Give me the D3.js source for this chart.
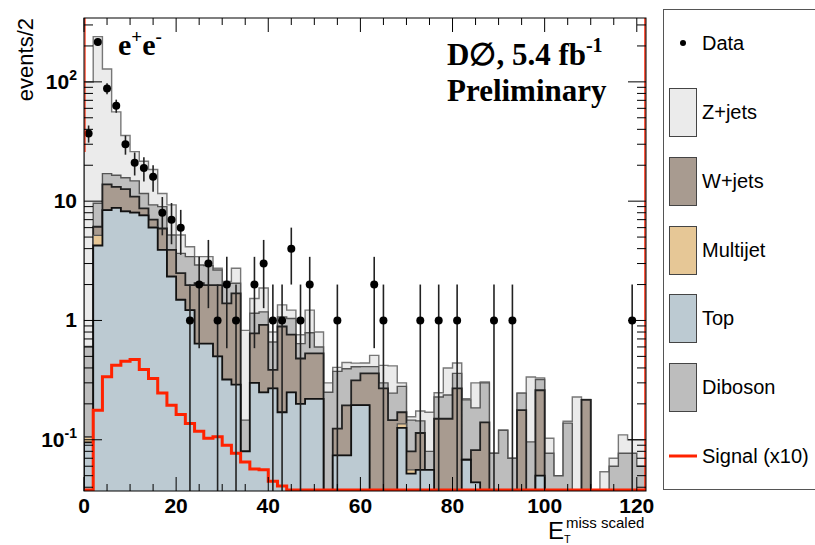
<!DOCTYPE html>
<html><head><meta charset="utf-8">
<script src="https://cdn.jsdelivr.net/npm/d3@7"></script>
<style>body{margin:0;background:#fff}svg{display:block}</style>
</head><body>
<svg id="chart" width="815" height="545"></svg>
<script>
// Missing scaled transverse energy, e+e- channel, 2-unit bins from 0 to 122
const binWidth = 2;
const nBins = 61;

// Background expectations per bin (stacked bottom-up: Top, Multijet, W+jets, Diboson, Z+jets)
const topBkg = [0.095,4.25,8.4,8.8,8.2,8.0,7.6,6.0,3.9,2.33,1.49,1.22,0.64,0.64,0.5,0.32,0.29,0.08,0.3,0.25,0.27,0.17,0.25,0.2,0.22,0.22,0,0.074,0.074,0.195,0.195,0,0,0,0.126,0.052,0.056,0.056,0,0,0,0.068,0.044,0,0,0,0,0,0,0.05,0,0,0,0,0,0,0,0,0,0,0];
const multijet = [0.01,0.91,0.05,0.05,0.05,0.05,0.05,0.05,0.03,0.02,0.02,0,0,0,0,0,0,0,0,0,0,0,0,0,0,0,0,0,0,0,0,0,0,0,0.01,0.004,0,0,0,0,0,0,0,0,0,0,0,0,0,0,0,0,0,0,0,0,0,0,0,0,0];
const wjets = [0,0.94,5.35,4.35,4.35,2.85,1.05,0.95,1.97,1.55,0.98,0.76,1.41,1.34,1.48,1.07,1.4,0,0.48,0.67,0.115,0.72,0.51,0.28,0.31,0.31,0,0.05,0.12,0.12,0.165,0.36,0.27,0.146,0.034,0.024,0.058,0,0.15,0.15,0.27,0,0.038,0.14,0,0,0,0.177,0,0.21,0,0,0,0,0.216,0,0,0,0,0,0];
const diboson = [0.5,3.5,3.2,3.3,3.1,3.9,2.9,2.3,3.1,1.3,1.16,1.45,0.87,0.9,0.67,0.66,0.36,0.066,0.37,0.26,0.275,0.18,0.28,0.16,0.26,0.07,0.25,0.25,0.2,0.094,0.05,0.05,0.03,0.1,0.11,0.066,0.03,0.024,0.078,0.087,0.09,0.148,0.103,0.16,0.077,0.12,0.07,0.069,0.096,0.06,0.077,0.05,0.138,0,0,0,0,0.06,0.077,0.077,0.06];
const zjets = [99,230,111,39.5,19.8,11.2,10.0,9.1,2.6,4.1,1.55,0.72,0.51,0.55,0.09,0.07,0.69,0.68,0.38,0.69,0.14,0.28,0.18,0.12,0.43,0.2,0.05,0.03,0.05,0.03,0.03,0.1,0.12,0.17,0.02,0.01,0.03,0.09,0.02,0.163,0.08,0.005,0.115,0.005,0,0,0,0,0.24,0.01,0.026,0,0.005,0.228,0.002,0,0.054,0.01,0.033,0.023,0.04];

// Signal expectation (scaled by 10)
const signalX10 = [0,0.177,0.337,0.422,0.456,0.47,0.388,0.327,0.247,0.195,0.163,0.137,0.118,0.103,0.106,0.09,0.077,0.065,0.057,0.056,0.045,0.041,0,0,0,0,0,0,0,0,0,0,0,0,0,0,0,0,0,0,0,0,0,0,0,0,0,0,0,0,0,0,0,0,0,0,0,0,0,0,0];

// Observed events per bin
const dataCounts = [37,216,88,63,30,21,19,16,8,7,6,1,2,3,1,2,1,0,2,3,1,1,4,1,2,0,0,1,0,0,0,2,1,0,0,0,1,0,1,0,1,0,0,0,1,0,1,0,0,0,0,0,0,0,0,0,0,0,0,1,0];

const xTickLabels = ["0","20","40","60","80","100","120"];

const svg = d3.select("#chart");
const L = 84, R = 646, T = 18, B = 491;
const x = d3.scaleLinear().domain([0, nBins * binWidth]).range([L, R]);
const y = d3.scaleLog().domain([0.0372, 343]).range([B, T]);
const yc = v => v <= 0 ? B + 5 : Math.max(T - 5, Math.min(B + 5, y(v)));

const components = [
  {name: "Top", vals: topBkg, fill: "#bccad2", stroke: "#111", sw: 1.8},
  {name: "Multijet", vals: multijet, fill: "#e6c796", stroke: "#555", sw: 1.2},
  {name: "W+jets", vals: wjets, fill: "#a89b90", stroke: "#222", sw: 1.8},
  {name: "Diboson", vals: diboson, fill: "#bdbdbd", stroke: "#555", sw: 1.4},
  {name: "Z+jets", vals: zjets, fill: "#ebebeb", stroke: "#777", sw: 1.4}
];
// cumulative sums
let run = new Array(nBins).fill(0);
components.forEach(c => {
  c.cum = run.map((r, i) => r + c.vals[i]);
  run = c.cum;
});

const defs = svg.append("defs");
defs.append("clipPath").attr("id", "frame").append("rect")
  .attr("x", L).attr("y", T).attr("width", R - L).attr("height", B - T);

const plot = svg.append("g").attr("clip-path", "url(#frame)");

function stepPath(vals) {
  let p = `M${x(0)},${B + 5}`;
  vals.forEach((v, i) => {
    const yy = yc(v);
    p += `L${x(i * binWidth)},${yy}L${x((i + 1) * binWidth)},${yy}`;
  });
  p += `L${x(nBins * binWidth)},${B + 5}Z`;
  return p;
}

// draw cumulative histograms from the largest down
components.slice().reverse().forEach(c => {
  plot.append("path").attr("d", stepPath(c.cum))
    .attr("fill", c.fill).attr("stroke", c.stroke)
    .attr("stroke-width", c.sw).attr("stroke-linejoin", "miter");
});

// signal line
let sp = "";
signalX10.forEach((v, i) => {
  const yy = v > 0 ? y(v) : B - 1;
  sp += (i === 0 ? `M${x(0)},${yy}` : `L${x(i * binWidth)},${yy}`) + `L${x((i + 1) * binWidth)},${yy}`;
});
plot.append("path").attr("d", sp).attr("fill", "none")
  .attr("stroke", "#ff2200").attr("stroke-width", 3);
svg.append("line").attr("x1", R - 1).attr("x2", R - 1).attr("y1", T).attr("y2", B)
  .attr("stroke", "#ff2200").attr("stroke-width", 1.5);
svg.append("line").attr("x1", L + 1).attr("x2", L + 1).attr("y1", T).attr("y2", 152)
  .attr("stroke", "#ff2200").attr("stroke-width", 1.2);

// data points with sqrt(N) errors
const dg = plot.append("g");
dataCounts.forEach((n, i) => {
  if (n <= 0) return;
  const cx = x((i + 0.5) * binWidth);
  const e = Math.sqrt(n);
  dg.append("line").attr("x1", cx).attr("x2", cx)
    .attr("y1", yc(n + e)).attr("y2", yc(n - e))
    .attr("stroke", "#222").attr("stroke-width", 1.6);
  dg.append("circle").attr("cx", cx).attr("cy", y(n)).attr("r", 4).attr("fill", "#000");
});

// frame and ticks
const axg = svg.append("g").attr("stroke", "#000").attr("stroke-width", 1);
axg.append("rect").attr("x", L).attr("y", T).attr("width", R - L).attr("height", B - T).attr("fill", "none");
const yMajor = [0.1, 1, 10, 100];
const yMinor = [];
[-2, -1, 0, 1, 2].forEach(d => { for (let k = 2; k <= 9; k++) { const v = k * Math.pow(10, d); if (v > 0.0372 && v < 343) yMinor.push(v); } });
yMajor.forEach(v => {
  axg.append("line").attr("x1", L).attr("x2", L + 18).attr("y1", y(v)).attr("y2", y(v));
  axg.append("line").attr("x1", R).attr("x2", R - 18).attr("y1", y(v)).attr("y2", y(v));
});
yMinor.forEach(v => {
  axg.append("line").attr("x1", L).attr("x2", L + 9).attr("y1", y(v)).attr("y2", y(v));
  axg.append("line").attr("x1", R).attr("x2", R - 9).attr("y1", y(v)).attr("y2", y(v));
});
d3.range(0, 121, 5).forEach(t => {
  const len = t % 20 === 0 ? 14 : 7;
  axg.append("line").attr("x1", x(t)).attr("x2", x(t)).attr("y1", B).attr("y2", B - len);
  axg.append("line").attr("x1", x(t)).attr("x2", x(t)).attr("y1", T).attr("y2", T + len);
});

// axis labels
const lab = svg.append("g").attr("font-family", "Liberation Sans, Arial, sans-serif")
  .attr("font-weight", "bold").attr("fill", "#000");
xTickLabels.forEach((s, k) => {
  lab.append("text").attr("x", x(k * 20)).attr("y", 513).attr("text-anchor", "middle")
    .attr("font-size", 21).text(s);
});
function yLabel(base, exp, yy) {
  const t = lab.append("text").attr("x", 77).attr("y", yy + 7).attr("text-anchor", "end").attr("font-size", 21);
  t.append("tspan").text(base);
  if (exp) t.append("tspan").attr("font-size", 14).attr("dy", -9).text(exp);
}
yLabel("10", "2", y(100));
yLabel("10", null, y(10));
yLabel("1", null, y(1));
yLabel("10", "-1", y(0.1));

svg.append("text").attr("transform", "translate(33,18) rotate(-90)")
  .attr("text-anchor", "end").attr("font-family", "Liberation Sans, Arial, sans-serif")
  .attr("font-size", 22).text("events/2");

const xt = svg.append("g").attr("font-family", "Liberation Sans, Arial, sans-serif").attr("fill", "#000");
xt.append("text").attr("x", 548).attr("y", 539).attr("font-size", 24).text("E");
xt.append("text").attr("x", 564).attr("y", 543).attr("font-size", 11).text("T");
xt.append("text").attr("x", 566).attr("y", 528).attr("font-size", 15).text("miss scaled");

// labels inside the plot
const serif = "Liberation Serif, Times New Roman, serif";
const ee = svg.append("text").attr("x", 118).attr("y", 55).attr("font-family", serif)
  .attr("font-weight", "bold").attr("font-size", 30);
ee.append("tspan").text("e");
ee.append("tspan").attr("font-size", 19).attr("dy", -12).text("+");
ee.append("tspan").attr("dy", 12).text("e");
ee.append("tspan").attr("font-size", 19).attr("dy", -12).text("-");

const d0 = svg.append("text").attr("x", 447).attr("y", 65).attr("font-family", serif)
  .attr("font-weight", "bold").attr("font-size", 31);
d0.append("tspan").text("D\u2205, 5.4 fb");
d0.append("tspan").attr("font-size", 20).attr("dy", -13).text("-1");
svg.append("text").attr("x", 447).attr("y", 101).attr("font-family", serif)
  .attr("font-weight", "bold").attr("font-size", 31).text("Preliminary");

// legend
const lg = svg.append("g");
lg.append("rect").attr("x", 663.5).attr("y", 9.5).attr("width", 160).attr("height", 480)
  .attr("fill", "#fff").attr("stroke", "#555").attr("stroke-width", 1);
const lf = "Liberation Sans, Arial, sans-serif";
lg.append("circle").attr("cx", 683).attr("cy", 43).attr("r", 3).attr("fill", "#000");
lg.append("text").attr("x", 702).attr("y", 50).attr("font-family", lf).attr("font-size", 20).text("Data");
const legendBoxes = [
  {label: "Z+jets", fill: "#ebebeb", y: 88},
  {label: "W+jets", fill: "#a89b90", y: 157},
  {label: "Multijet", fill: "#e6c796", y: 226},
  {label: "Top", fill: "#bccad2", y: 294},
  {label: "Diboson", fill: "#bdbdbd", y: 363}
];
legendBoxes.forEach(b => {
  lg.append("rect").attr("x", 669.5).attr("y", b.y + 0.5).attr("width", 27).attr("height", 48)
    .attr("fill", b.fill).attr("stroke", "#444").attr("stroke-width", 1);
  lg.append("text").attr("x", 702).attr("y", b.y + 31).attr("font-family", lf).attr("font-size", 20).text(b.label);
});
lg.append("line").attr("x1", 669).attr("x2", 697).attr("y1", 456).attr("y2", 456)
  .attr("stroke", "#ff2200").attr("stroke-width", 3);
lg.append("text").attr("x", 702).attr("y", 463).attr("font-family", lf).attr("font-size", 20).text("Signal (x10)");
</script>
</body></html>
